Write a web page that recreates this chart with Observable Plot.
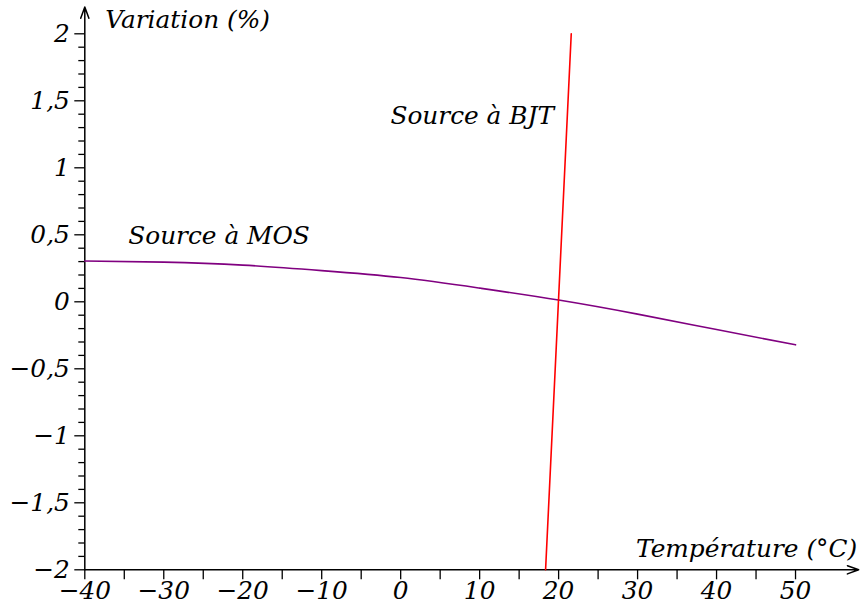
<!DOCTYPE html>
<html>
<head>
<meta charset="utf-8">
<script src="https://cdn.jsdelivr.net/npm/d3@7"></script>
<script src="https://cdn.jsdelivr.net/npm/@observablehq/plot@0.6"></script>
<style>
  html, body { margin: 0; padding: 0; background: white; }
</style>
</head>
<body>
<div id="chart"></div>
<script>
// MOS source: variation (%) vs temperature (°C)
const mosTemp = [-40, -30, -20, -10, 0, 10, 20, 30, 40, 50];
const mosVar  = [0.304, 0.296, 0.274, 0.233, 0.181, 0.102, 0.013, -0.092, -0.207, -0.321];

// BJT source: straight line
const bjtTemp = [18.35, 21.6];
const bjtVar  = [-2, 2];

// Tick values
const xMajorTicks = [-40, -30, -20, -10, 0, 10, 20, 30, 40, 50];
const xMinorTicks = [-35, -25, -15, -5, 5, 15, 25, 35, 45];
const yMajorTicks = [-2, -1.5, -1, -0.5, 0, 0.5, 1, 1.5, 2];
const yMinorTicks = d3.range(-20, 21).filter(i => i % 5 !== 0).map(i => i / 10);

// Annotation texts and their anchor positions (data units)
const labelTexts  = ["Variation (%)", "Température (°C)", "Source à BJT", "Source à MOS"];
const labelX      = [-37.4, 57.8, -1.3, -34.5];
const labelY      = [2.10, -1.846, 1.386, 0.49];
const labelAnchor = ["start", "end", "start", "start"];

const fmt = d => (d < 0 ? "\u2212" : "") + String(Math.abs(d)).replace(".", ",");

const mos = mosTemp.map((t, i) => ({t, v: mosVar[i]}));
const bjt = bjtTemp.map((t, i) => ({t, v: bjtVar[i]}));
const labels = labelTexts.map((text, i) => ({text, x: labelX[i], y: labelY[i], anchor: labelAnchor[i]}));
const axesLines = [
  {x1: -40, y1: -2, x2: 58, y2: -2},
  {x1: -40, y1: -2, x2: -40, y2: 2.2}
];

const FS = 24.8;

const chart = Plot.plot({
  width: 860,
  height: 608,
  marginLeft: 84.3,
  marginRight: 1.8,
  marginTop: 6.5,
  marginBottom: 38.7,
  style: {
    fontFamily: "'DejaVu Serif', serif",
    fontStyle: "italic",
    fontSize: FS + "px",
    background: "white",
    color: "black",
    overflow: "visible"
  },
  x: {domain: [-40, 58], axis: null},
  y: {domain: [-2, 2.2], axis: null},
  marks: [
    Plot.axisX({ticks: xMinorTicks, tickSize: 10, tickFormat: () => "", stroke: "black", strokeWidth: 1.3}),
    Plot.axisX({ticks: xMajorTicks, tickSize: 10, tickPadding: 2, tickFormat: fmt, stroke: "black", strokeWidth: 1.3, fill: "black", fontSize: FS}),
    Plot.axisY({ticks: yMinorTicks, tickSize: 6, tickFormat: () => "", stroke: "black", strokeWidth: 1.3}),
    Plot.axisY({ticks: yMajorTicks, tickSize: 10, tickPadding: 5, tickFormat: fmt, stroke: "black", strokeWidth: 1.3, fill: "black", fontSize: FS}),
    Plot.arrow(axesLines, {x1: "x1", y1: "y1", x2: "x2", y2: "y2", stroke: "black", strokeWidth: 1.5, headLength: 12, headAngle: 40}),
    Plot.line(mos, {x: "t", y: "v", stroke: "#800080", strokeWidth: 1.6, curve: "natural"}),
    Plot.line(bjt, {x: "t", y: "v", stroke: "#ff0000", strokeWidth: 1.6}),
    Plot.text(labels.filter(d => d.anchor === "start"), {x: "x", y: "y", text: "text", textAnchor: "start", fontSize: FS, fill: "black", fontStyle: "italic"}),
    Plot.text(labels.filter(d => d.anchor === "end"), {x: "x", y: "y", text: "text", textAnchor: "end", fontSize: FS, fill: "black", fontStyle: "italic"})
  ]
});

document.getElementById("chart").appendChild(chart);
</script>
</body>
</html>
